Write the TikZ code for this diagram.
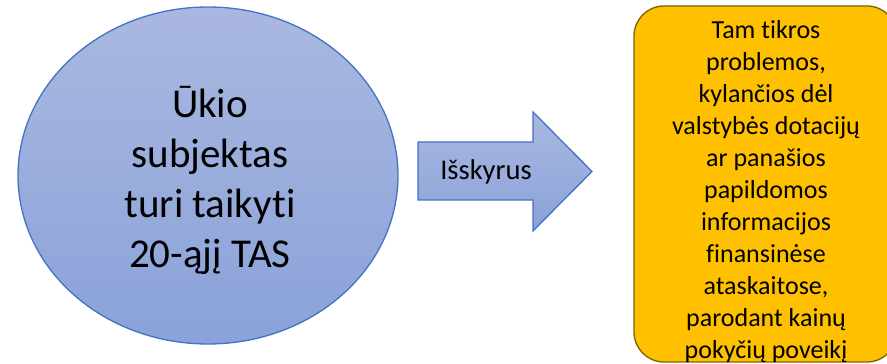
\documentclass[tikz,border=0pt]{standalone}
\usepackage{fontspec}
\setmainfont{Carlito}[Ligatures=NoCommon]
\usepackage{xcolor}
\usetikzlibrary{shapes.geometric}

\definecolor{bluerim}{HTML}{4472C4}
\definecolor{bluetop}{HTML}{AAB8E0}
\definecolor{bluebot}{HTML}{8AA2D9}
\definecolor{goldfill}{HTML}{FFC000}
\definecolor{goldrim}{HTML}{7F6000}

\tikzset{
	bluefill/.style={draw=bluerim,line width=1.3pt,top color=bluetop,bottom color=bluebot},
	bigtxt/.style={align=center,font=\fontsize{41pt}{50pt}\selectfont},
	midtxt/.style={align=center,font=\fontsize{28.5pt}{34pt}\selectfont},
	smalltxt/.style={align=center,font=\fontsize{26pt}{32pt}\selectfont}
}

\begin{document}
\begin{tikzpicture}[x=1pt,y=1pt]
	\useasboundingbox (0,0) rectangle (887,364);

	% (subjektas)
	\node[ellipse,bluefill,inner sep=0,minimum width=380pt,minimum height=337pt] (subj) at (208,188.5) {};
	\node[bigtxt] (subjtxt) at (210,184) {Ūkio\\subjektas\\turi taikyti\\20-ąjį TAS};

	% (rodykle)
	\draw[bluefill] (418,222) -- (533,222) -- (533,252) -- (592,192.5) -- (533,133) -- (533,164) -- (418,164) -- cycle;
	\node[midtxt] (isk) at (486,192) {Išskyrus};

	% (isimtis)
	\draw[goldrim,fill=goldfill,line width=1.3pt,rounded corners=30pt] (634,2) rectangle (897,358);
	\node[smalltxt] (isimtis) at (766,172) {Tam tikros\\problemos,\\kylančios dėl\\valstybės dotacijų\\ar panašios\\papildomos\\informacijos\\finansinėse\\ataskaitose,\\parodant kainų\\pokyčių poveikį};

\end{tikzpicture}
\end{document}
